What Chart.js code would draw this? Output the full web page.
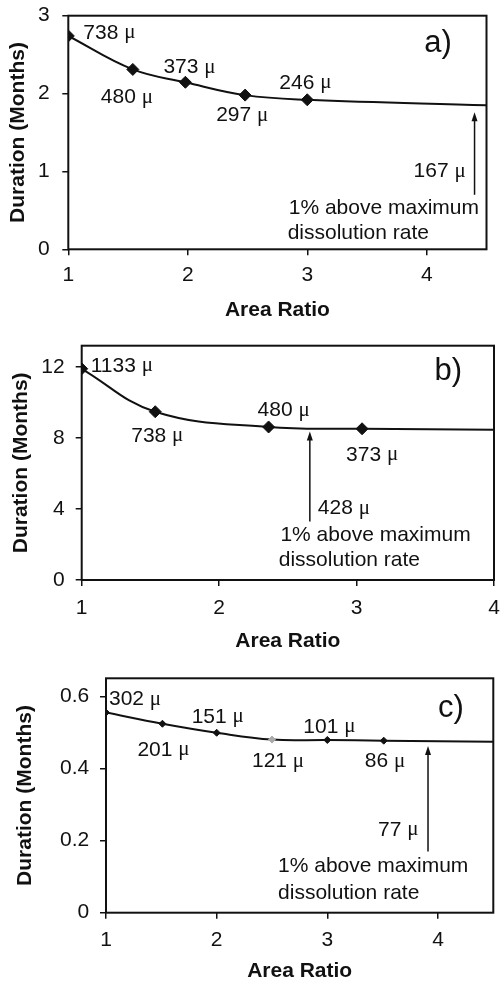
<!DOCTYPE html>
<html>
<head>
<meta charset="utf-8">
<script src="https://cdn.jsdelivr.net/npm/chart.js@4.4.1/dist/chart.umd.min.js"></script>
<style>
  body { margin: 0; background: #fff; width: 501px; height: 982px; overflow: hidden; position: relative; }
  canvas { position: absolute; left: 0; }
</style>
</head>
<body>
<canvas id="chartA" width="501" height="330" style="top:0"></canvas>
<canvas id="chartB" width="501" height="340" style="top:320px"></canvas>
<canvas id="chartC" width="501" height="340" style="top:650px"></canvas>
<script>
// a) 738 micron starting size
const ratioA = [1, 1.54, 1.98, 2.48, 3.0];
const durationA = [2.74, 2.31, 2.145, 1.98, 1.92];
const sizeA = [738, 480, 373, 297, 246];
const tailA = [4.5, 1.85];          // end of the fitted curve
const arrowA = [4.4, 0.7, 1.76];    // x, foot, tip
const arrowSizeA = 167;

// b) 1133 micron starting size
const ratioB = [1, 1.535, 2.36, 3.04];
const durationB = [11.9, 9.48, 8.62, 8.52];
const sizeB = [1133, 738, 480, 373];
const tailB = [4, 8.47];
const arrowB = [2.66, 3.3, 8.37];
const arrowSizeB = 428;

// c) 302 micron starting size
const ratioC = [1, 1.51, 2, 2.5, 3, 3.51];
const durationC = [0.555, 0.524, 0.499, 0.48, 0.479, 0.477];
const sizeC = [302, 201, 151, 121, 101, 86];
const tailC = [4.5, 0.474];
const arrowC = [3.91, 0.17, 0.462];
const arrowSizeC = 77;

const INK = '#111';
const SANS = '"Liberation Sans", Arial, sans-serif';
const noteLines = ['1% above maximum', 'dissolution rate'];

const panels = [
  {
    id: 'chartA', letter: 'a)', ratio: ratioA, duration: durationA, size: sizeA, tail: tailA,
    arrow: arrowA, arrowSize: arrowSizeA, xMax: 4.5, yMax: 3, yStep: 1,
    pad: { top: 15.7, right: 14.5, left: 0, bottom: 0 }, yWidth: 68.3, xHeight: 80.7,
    yTitlePad: 5.7, xTitlePad: 7.4, yTickPad: 12.5, xTickPad: 7.6, marker: 6,
    offsets: [[15, -3], [-32, 28], [-22, -15], [-29, 20], [-28, -17]],
    notes: { size: [3.89, 1.0], line1: [2.845, 0.525], line2: [2.836, 0.206], letter: [3.98, 2.54] },
    grey: []
  },
  {
    id: 'chartB', letter: 'b)', ratio: ratioB, duration: durationB, size: sizeB, tail: tailB,
    arrow: arrowB, arrowSize: arrowSizeB, xMax: 4, yMax: 13.2, yStep: 4,
    pad: { top: 25.7, right: 3.7, left: 0, bottom: 0 }, yWidth: 81.7, xHeight: 80,
    yTitlePad: 9.1, xTitlePad: 5.7, yTickPad: 11, xTickPad: 9.7, marker: 6,
    offsets: [[9, -3], [-24, 24], [-11, -17], [-16, 26]],
    notes: { size: [2.718, 4.05], line1: [2.446, 2.54], line2: [2.434, 1.13], letter: [3.567, 11.29] },
    grey: []
  },
  {
    id: 'chartC', letter: 'c)', ratio: ratioC, duration: durationC, size: sizeC, tail: tailC,
    arrow: arrowC, arrowSize: arrowSizeC, xMax: 4.5, yMax: 0.65, yStep: 0.2,
    pad: { top: 28.3, right: 7.7, left: 0, bottom: 0 }, yWidth: 106, xHeight: 77.3,
    yTitlePad: 12.4, xTitlePad: 5.7, yTickPad: 10.7, xTickPad: 8.7, marker: 3.5,
    offsets: [[3, -13], [-25, 26], [-25, -16], [-20, 22], [-24, -13], [-19, 21]],
    notes: { size: [3.458, 0.23], line1: [2.555, 0.128], line2: [2.555, 0.054], letter: [4.0, 0.543] },
    grey: [3]
  }
];

function drawMu(ctx, num, x, y) {
  const head = num + ' ';
  ctx.font = '21px ' + SANS;
  ctx.fillText(head, x, y);
  const w = ctx.measureText(head).width;
  ctx.font = '21px "Liberation Serif", serif';
  ctx.fillText('μ', x + w, y);
}

function makeDecor(p) {
  return {
    id: 'decor',
    afterDraw(chart) {
      const { ctx, chartArea: a, scales: { x, y } } = chart;
      ctx.save();
      ctx.strokeStyle = INK;
      ctx.lineWidth = 2;
      ctx.strokeRect(a.left, a.top, a.right - a.left, a.bottom - a.top);

      ctx.fillStyle = INK;
      ctx.textAlign = 'left';
      ctx.textBaseline = 'middle';
      p.size.forEach((s, i) => {
        const px = x.getPixelForValue(p.ratio[i]) + p.offsets[i][0];
        const py = y.getPixelForValue(p.duration[i]) + p.offsets[i][1];
        drawMu(ctx, s, px, py);
      });

      const n = p.notes;
      drawMu(ctx, p.arrowSize, x.getPixelForValue(n.size[0]), y.getPixelForValue(n.size[1]));
      ctx.font = '21px ' + SANS;
      ctx.fillText(noteLines[0], x.getPixelForValue(n.line1[0]), y.getPixelForValue(n.line1[1]));
      ctx.fillText(noteLines[1], x.getPixelForValue(n.line2[0]), y.getPixelForValue(n.line2[1]));

      ctx.font = '31px ' + SANS;
      ctx.textBaseline = 'alphabetic';
      ctx.fillText(p.letter, x.getPixelForValue(n.letter[0]), y.getPixelForValue(n.letter[1]));

      // arrow pointing up at the curve
      const ax = x.getPixelForValue(p.arrow[0]);
      const foot = y.getPixelForValue(p.arrow[1]);
      const tip = y.getPixelForValue(p.arrow[2]);
      ctx.lineWidth = 1.5;
      ctx.beginPath();
      ctx.moveTo(ax, foot);
      ctx.lineTo(ax, tip + 6);
      ctx.stroke();
      ctx.beginPath();
      ctx.moveTo(ax, tip);
      ctx.lineTo(ax - 3, tip + 9);
      ctx.lineTo(ax + 3, tip + 9);
      ctx.closePath();
      ctx.fill();
      ctx.restore();
    }
  };
}

function axisTitle(text, pad) {
  return { display: true, text: text, color: INK, padding: pad, font: { family: SANS, size: 21, weight: 'bold' } };
}

panels.forEach(p => {
  const pts = p.ratio.map((r, i) => ({ x: r, y: p.duration[i] }));
  pts.push({ x: p.tail[0], y: p.tail[1] });
  const n = p.ratio.length;

  new Chart(document.getElementById(p.id), {
    type: 'scatter',
    data: {
      datasets: [{
        data: pts,
        showLine: true,
        tension: 0.4,
        borderColor: INK,
        borderWidth: 2,
        pointStyle: 'rectRot',
        pointRadius: c => c.dataIndex < n ? p.marker : 0,
        pointBackgroundColor: c => p.grey.includes(c.dataIndex) ? '#aaa' : INK,
        pointBorderColor: c => p.grey.includes(c.dataIndex) ? '#aaa' : INK,
        pointBorderWidth: 1
      }]
    },
    options: {
      responsive: false,
      animation: false,
      events: [],
      layout: { padding: p.pad },
      plugins: { legend: { display: false }, tooltip: { enabled: false } },
      scales: {
        x: {
          type: 'linear', min: 1, max: p.xMax,
          border: { display: false },
          grid: { drawOnChartArea: false, drawTicks: true, tickLength: 6, color: INK, lineWidth: 1.5 },
          ticks: { stepSize: 1, includeBounds: false, color: INK, padding: p.xTickPad, font: { family: SANS, size: 21 } },
          title: axisTitle('Area Ratio', { top: 0, bottom: p.xTitlePad }),
          afterFit: s => { s.height = p.xHeight; s.paddingLeft = 0; s.paddingRight = 0; }
        },
        y: {
          min: 0, max: p.yMax,
          border: { display: false },
          grid: { drawOnChartArea: false, drawTicks: true, tickLength: 6, color: INK, lineWidth: 1.5 },
          ticks: { stepSize: p.yStep, includeBounds: false, color: INK, padding: p.yTickPad, font: { family: SANS, size: 21 } },
          title: axisTitle('Duration (Months)', { top: p.yTitlePad, bottom: 0 }),
          afterFit: s => { s.width = p.yWidth; s.paddingTop = 0; s.paddingBottom = 0; }
        }
      }
    },
    plugins: [makeDecor(p)]
  });
});
</script>
</body>
</html>
